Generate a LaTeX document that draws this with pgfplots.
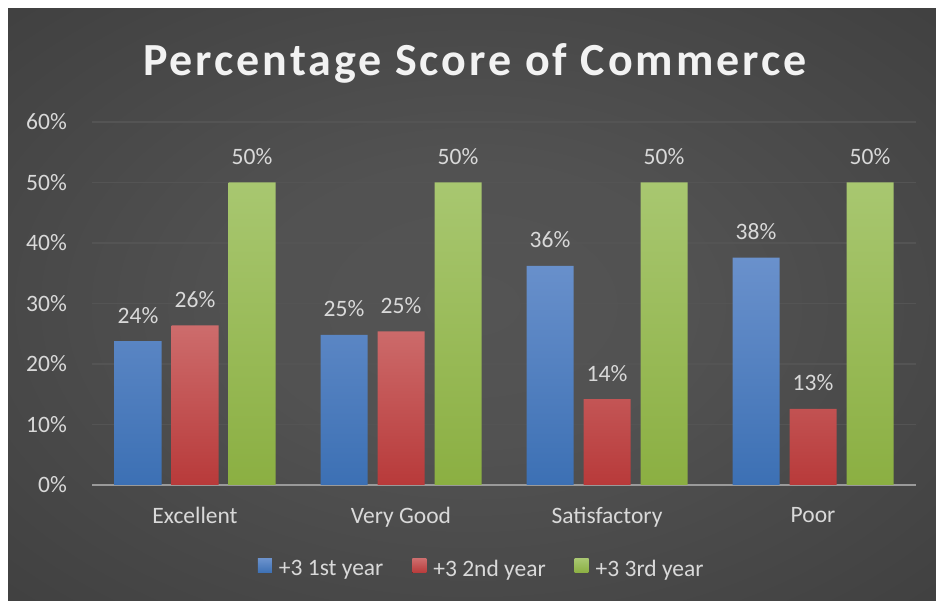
\documentclass[border=0pt]{standalone}
\usepackage{fontspec}
\setmainfont{Carlito}
\newfontfamily\titlefont[LetterSpace=6.5]{Carlito}
\usepackage{pgfplots}
\pgfplotsset{compat=1.18}
\definecolor{txt}{HTML}{D9D9D9}
\definecolor{bgin}{HTML}{545454}
\definecolor{bgout}{HTML}{262626}
\definecolor{gridc}{HTML}{545454}
\definecolor{axc}{HTML}{9A9A9A}
\definecolor{btop}{HTML}{6A91CC}
\definecolor{bbot}{HTML}{3C70B4}
\definecolor{rtop}{HTML}{CD6C6C}
\definecolor{rbot}{HTML}{B83A3A}
\definecolor{gtop}{HTML}{A8C770}
\definecolor{gbot}{HTML}{8BAF42}
\pgfdeclareradialshading{bgshade}{\pgfpoint{0bp}{0bp}}{color(0bp)=(bgin); color(12bp)=(bgin!95!bgout); color(72bp)=(bgout)}
\newcommand{\lblfont}{\fontsize{23.5bp}{27bp}\selectfont}
\begin{document}
\begin{tikzpicture}[x=1bp,y=1bp]
\fill[white] (0,0) rectangle (936,601);
\shade[shading=bgshade] (8,0) rectangle (936,592);
\node[anchor=base, text=white!95!black] at (475,525) {\titlefont\bfseries\fontsize{46bp}{50bp}\selectfont Percentage Score of Commerce};
\begin{axis}[
  at={(92bp,116bp)}, anchor=south west,
  width=824bp, height=363bp, scale only axis,
  ymin=0, ymax=60, xmin=-0.5, xmax=3.5,
  ybar=10bp, bar width=47bp,
  xtick={0,1,2,3},
  xticklabels={Excellent,Very Good,Satisfactory,Poor},
  ytick={0,10,...,60},
  yticklabel={\pgfmathprintnumber{\tick}\%},
  /pgf/number format/assume math mode=true,
  major tick length=0pt,
  ymajorgrids, grid style={gridc, line width=1.2bp},
  axis x line*=bottom, axis y line*=left,
  y axis line style={draw=none},
  x axis line style={axc, line width=1.8bp},
  tick label style={font=\lblfont, text=txt},
  yticklabel style={inner sep=0pt, xshift=-25bp},
  xticklabel style={inner sep=0pt, yshift=-22bp},
  nodes near coords={\pgfmathprintnumber[fixed,precision=0]{\pgfplotspointmeta}\%},
  nodes near coords style={font=\lblfont, text=txt, anchor=base, yshift=18bp, inner sep=0pt},
  legend columns=3,
  legend style={at={(0.473,-0.231)}, anchor=center, draw=none, fill=none,
    font=\lblfont, text=txt,
    /tikz/every odd column/.append style={column sep=5bp},
    /tikz/every even column/.append style={column sep=27bp}},
  legend image code/.code={\fill[#1] (0bp,-4bp) rectangle (14bp,10bp);},
  clip=false,
]
\addplot[draw=none, top color=btop, bottom color=bbot] coordinates {(0,23.8) (1,24.8) (2,36.2) (3,37.6)};
\addplot[draw=none, top color=rtop, bottom color=rbot] coordinates {(0,26.4) (1,25.4) (2,14.2) (3,12.6)};
\addplot[draw=none, top color=gtop, bottom color=gbot] coordinates {(0,50) (1,50) (2,50) (3,50)};
\legend{+3 1st year,+3 2nd year,+3 3rd year}
\end{axis}
\end{tikzpicture}
\end{document}
